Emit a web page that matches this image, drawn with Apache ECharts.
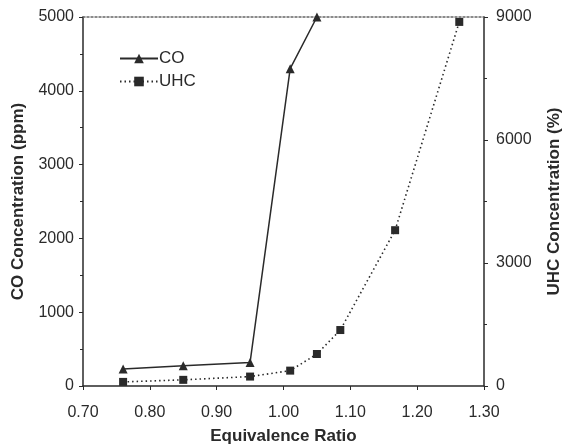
<!DOCTYPE html>
<html><head><meta charset="utf-8">
<script src="https://cdn.jsdelivr.net/npm/echarts@6/dist/echarts.min.js"></script>
<style>html,body{margin:0;padding:0;background:#fff}#c{width:562px;height:447px}</style>
</head><body><div id="c"></div>
<script>
const coX = [0.76, 0.85, 0.95, 1.01, 1.05];
const coY = [230, 275, 320, 4300, 5000];
const uhcX = [0.76, 0.85, 0.95, 1.01, 1.05, 1.085, 1.167, 1.263];
const uhcY = [100, 150, 230, 375, 780, 1365, 3800, 8880];
const xTicks = [0.70, 0.80, 0.90, 1.00, 1.10, 1.20, 1.30];

const ink = '#2a2a2a';
const font = 'Liberation Sans, Arial, sans-serif';
const chart = echarts.init(document.getElementById('c'), null, {renderer:'canvas'});
chart.setOption({
  backgroundColor:'#ffffff',
  animation:false,
  grid:{left:83,right:78,top:17,bottom:61,containLabel:false,outerBoundsMode:'none'},
  legend:{
    orient:'vertical', left:114, top:45, itemWidth:38, itemHeight:12, itemGap:6,
    textStyle:{fontFamily:font,fontSize:17,lineHeight:17,color:ink,padding:[0,0,0,-4]},
    data:['CO','UHC']
  },
  xAxis:[{
    type:'value', min:xTicks[0], max:xTicks[xTicks.length-1], interval:0.1,
    name:'Equivalence Ratio', nameLocation:'middle', nameGap:42,
    nameTextStyle:{fontFamily:font,fontSize:17,fontWeight:'bold',color:ink},
    axisLine:{lineStyle:{color:ink,width:1.5}},
    axisTick:{show:true,length:4,lineStyle:{color:ink}},
    axisLabel:{fontFamily:font,fontSize:16,color:ink,margin:19,formatter:v=>v.toFixed(2)},
    splitLine:{show:false}
  },{
    type:'value', position:'top', min:0, max:1,
    axisLine:{show:true,onZero:false,lineStyle:{color:'#666',width:1.5,type:[2,2]}},
    axisTick:{show:false}, axisLabel:{show:false}, splitLine:{show:false}
  }],
  yAxis:[{
    type:'value', min:0, max:5000, interval:1000,
    name:'CO Concentration (ppm)', nameLocation:'middle', nameGap:56,
    nameTextStyle:{fontFamily:font,fontSize:17,fontWeight:'bold',color:ink},
    axisLine:{show:true,onZero:false,lineStyle:{color:ink,width:1.5}},
    axisTick:{show:true,length:4,lineStyle:{color:ink}},
    minorTick:{show:true,splitNumber:2,length:3,lineStyle:{color:ink}},
    axisLabel:{fontFamily:font,fontSize:16,color:ink,margin:9,formatter:v=>String(v)},
    splitLine:{show:false}
  },{
    type:'value', min:0, max:9000, interval:3000, position:'right',
    name:'UHC Concentration (%)', nameLocation:'middle', nameGap:62, nameRotate:90,
    nameTextStyle:{fontFamily:font,fontSize:17,fontWeight:'bold',color:ink},
    axisLine:{show:true,onZero:false,lineStyle:{color:ink,width:1.5}},
    axisTick:{show:true,length:4,lineStyle:{color:ink}},
    minorTick:{show:true,splitNumber:2,length:3,lineStyle:{color:ink}},
    axisLabel:{fontFamily:font,fontSize:16,color:ink,margin:12,formatter:v=>String(v)},
    splitLine:{show:false}
  }],
  series:[{
    name:'CO', type:'line', yAxisIndex:0,
    data:coX.map((x,i)=>[x,coY[i]]),
    symbol:'triangle', symbolSize:9,
    lineStyle:{color:ink,width:1.5}, itemStyle:{color:ink}
  },{
    name:'UHC', type:'line', yAxisIndex:1,
    data:uhcX.map((x,i)=>[x,uhcY[i]]),
    symbol:'rect', symbolSize:8,
    lineStyle:{color:ink,width:1.6,type:[1.5,3]}, itemStyle:{color:ink}
  }]
});
</script></body></html>
